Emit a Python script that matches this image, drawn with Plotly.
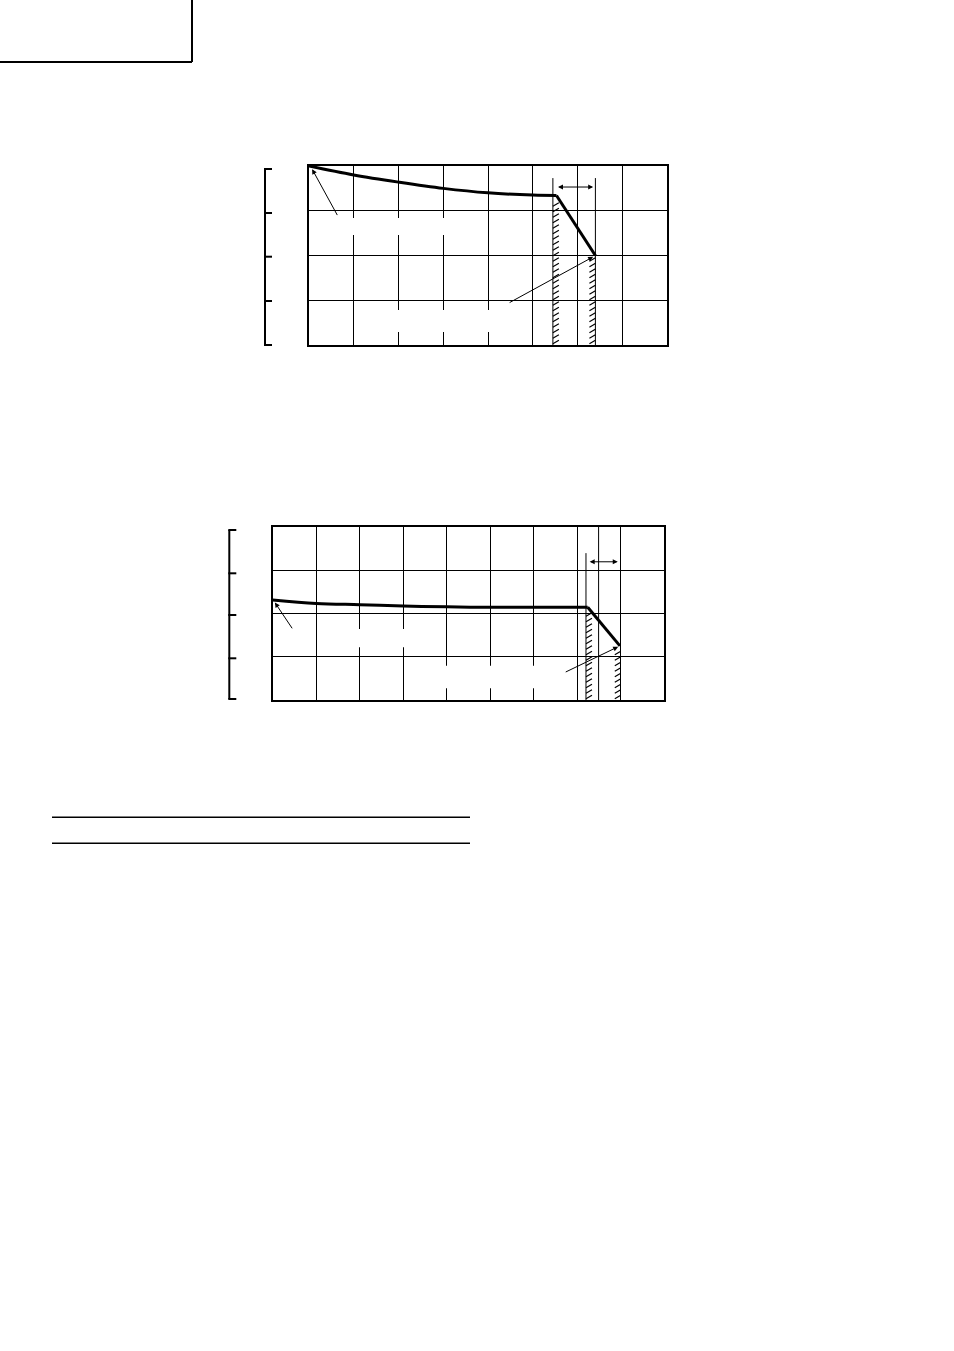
import plotly.graph_objects as go

W, H = 954, 1351

# ---------- data (chart 1) ----------
c1_curve_x = [0, 1, 2, 3, 4, 5, 5.53]
c1_curve_y = [4.0, 3.80, 3.64, 3.50, 3.40, 3.35, 3.34]
c1_drop_x = [5.53, 6.40]
c1_drop_y = [3.34, 2.0]
c1_limits = [5.45, 6.40]          # hatched limit lines
c1_limit_top = 3.73
c1_hatch_tops = [3.30, 1.97]

# ---------- data (chart 2) ----------
c2_curve_x = [0, 1, 2, 3, 4, 5, 6, 7, 7.24]
c2_curve_y = [2.31, 2.23, 2.20, 2.17, 2.15, 2.14, 2.14, 2.14, 2.14]
c2_drop_x = [7.24, 7.98]
c2_drop_y = [2.14, 1.25]
c2_limits = [7.20, 8.0]
c2_limit_top = 3.39
c2_extra_line = 7.49
c2_hatch_tops = [2.10, 1.20]


def px(x):
    return x / W


def py(y):
    return 1 - y / H


fig = go.Figure()

# curves
fig.add_trace(go.Scatter(x=c1_curve_x, y=c1_curve_y, mode="lines",
                         line=dict(color="black", width=3, shape="spline"),
                         xaxis="x", yaxis="y", hoverinfo="skip"))
fig.add_trace(go.Scatter(x=c1_drop_x, y=c1_drop_y, mode="lines",
                         line=dict(color="black", width=3),
                         xaxis="x", yaxis="y", hoverinfo="skip"))
fig.add_trace(go.Scatter(x=c2_curve_x, y=c2_curve_y, mode="lines",
                         line=dict(color="black", width=3, shape="spline"),
                         xaxis="x2", yaxis="y2", hoverinfo="skip"))
fig.add_trace(go.Scatter(x=c2_drop_x, y=c2_drop_y, mode="lines",
                         line=dict(color="black", width=3),
                         xaxis="x2", yaxis="y2", hoverinfo="skip"))


def hatch(x_line, top, side, xu, yu, xa, ya):
    """short '/' strokes beside a limit line; xu,yu = px per unit"""
    w = 6 / xu
    h = 3.5 / yu
    step = 5.5 / yu
    xs, ys = [], []
    if side > 0:
        x0, x1 = x_line, x_line + w
    else:
        x0, x1 = x_line - w, x_line
    y = 0.03
    while y + h <= top:
        xs += [x0, x1, None]
        ys += [y, y + h, None]
        y += step
    fig.add_trace(go.Scatter(x=xs, y=ys, mode="lines",
                             line=dict(color="black", width=1.2),
                             xaxis=xa, yaxis=ya, hoverinfo="skip"))


hatch(c1_limits[0], c1_hatch_tops[0], +1, 44.8, 44.75, "x", "y")
hatch(c1_limits[1], c1_hatch_tops[1], -1, 44.8, 44.75, "x", "y")
hatch(c2_limits[0], c2_hatch_tops[0], +1, 43.5, 43.33, "x2", "y2")
hatch(c2_limits[1], c2_hatch_tops[1], -1, 43.5, 43.33, "x2", "y2")

shapes = []
# limit lines
for xv in c1_limits:
    shapes.append(dict(type="line", xref="x", yref="y", x0=xv, x1=xv, y0=0, y1=c1_limit_top,
                       line=dict(color="black", width=1)))
shapes.append(dict(type="line", xref="x2", yref="y2", x0=c2_limits[0], x1=c2_limits[0],
                   y0=0, y1=c2_limit_top, line=dict(color="black", width=1)))
shapes.append(dict(type="line", xref="x2", yref="y2", x0=c2_extra_line, x1=c2_extra_line,
                   y0=0, y1=4, line=dict(color="black", width=1)))

# white masks (removed text)
shapes += [
    dict(type="rect", xref="x", yref="y", x0=0.72, x1=3.55, y0=2.46, y1=2.84,
         fillcolor="white", line=dict(width=0), layer="above"),
    dict(type="rect", xref="x", yref="y", x0=1.70, x1=4.35, y0=0.29, y1=0.78,
         fillcolor="white", line=dict(width=0), layer="above"),
    dict(type="rect", xref="x2", yref="y2", x0=1.32, x1=3.5, y0=1.22, y1=1.64,
         fillcolor="white", line=dict(width=0), layer="above"),
    dict(type="rect", xref="x2", yref="y2", x0=3.27, x1=6.6, y0=0.27, y1=0.79,
         fillcolor="white", line=dict(width=0), layer="above"),
]


def bracket(x, ys):
    out = [dict(type="line", xref="paper", yref="paper", x0=px(x), x1=px(x),
                y0=py(ys[0]), y1=py(ys[-1]), line=dict(color="black", width=2))]
    for yv in ys:
        out.append(dict(type="line", xref="paper", yref="paper", x0=px(x - 1), x1=px(x + 7),
                        y0=py(yv), y1=py(yv), line=dict(color="black", width=2)))
    return out


shapes += bracket(265, [169, 213, 256.7, 301, 345])
shapes += bracket(229.3, [530, 573.3, 615, 658.3, 699])

# page decorations
shapes += [
    dict(type="line", xref="paper", yref="paper", x0=0, x1=px(192), y0=py(62), y1=py(62),
         line=dict(color="black", width=2)),
    dict(type="line", xref="paper", yref="paper", x0=px(192), x1=px(192), y0=py(0), y1=py(62),
         line=dict(color="black", width=2)),
    dict(type="line", xref="paper", yref="paper", x0=px(52), x1=px(470), y0=py(817.3), y1=py(817.3),
         line=dict(color="black", width=1.5)),
    dict(type="line", xref="paper", yref="paper", x0=px(52), x1=px(470), y0=py(843.3), y1=py(843.3),
         line=dict(color="black", width=1.5)),
]

# arrows
arrow_common = dict(text="", showarrow=True, arrowhead=2, arrowsize=1, arrowwidth=1,
                    arrowcolor="black")
annotations = [
    dict(x=0.07, y=3.93, ax=0.65, ay=2.87, xref="x", yref="y", axref="x", ayref="y", **arrow_common),
    dict(x=6.35, y=1.97, ax=4.45, ay=0.93, xref="x", yref="y", axref="x", ayref="y", **arrow_common),
    dict(x=6.35, y=3.53, ax=5.53, ay=3.53, xref="x", yref="y", axref="x", ayref="y",
         arrowside="end+start", **arrow_common),
    dict(x=0.05, y=2.25, ax=0.47, ay=1.62, xref="x2", yref="y2", axref="x2", ayref="y2", **arrow_common),
    dict(x=7.94, y=1.23, ax=6.70, ay=0.63, xref="x2", yref="y2", axref="x2", ayref="y2", **arrow_common),
    dict(x=7.93, y=3.19, ax=7.25, ay=3.19, xref="x2", yref="y2", axref="x2", ayref="y2",
         arrowside="end+start", **arrow_common),
]

axis_common = dict(showgrid=True, gridcolor="black", gridwidth=1, showline=True, linewidth=2,
                   linecolor="black", mirror=True, showticklabels=False, ticks="",
                   zeroline=False, fixedrange=True, dtick=1, tick0=0)

fig.update_layout(
    width=W, height=H, margin=dict(l=0, r=0, t=0, b=0),
    paper_bgcolor="white", plot_bgcolor="white", showlegend=False,
    xaxis=dict(domain=[px(309), px(667)], range=[0, 8], anchor="y", **axis_common),
    yaxis=dict(domain=[py(345), py(166)], range=[0, 4], anchor="x", **axis_common),
    xaxis2=dict(domain=[px(272.7), px(664.3)], range=[0, 9], anchor="y2", **axis_common),
    yaxis2=dict(domain=[py(700), py(526.7)], range=[0, 4], anchor="x2", **axis_common),
    shapes=shapes, annotations=annotations,
)

fig.write_html("out.html", config={"displayModeBar": False},
               post_script="document.body.style.margin='0';document.body.style.padding='0';")
